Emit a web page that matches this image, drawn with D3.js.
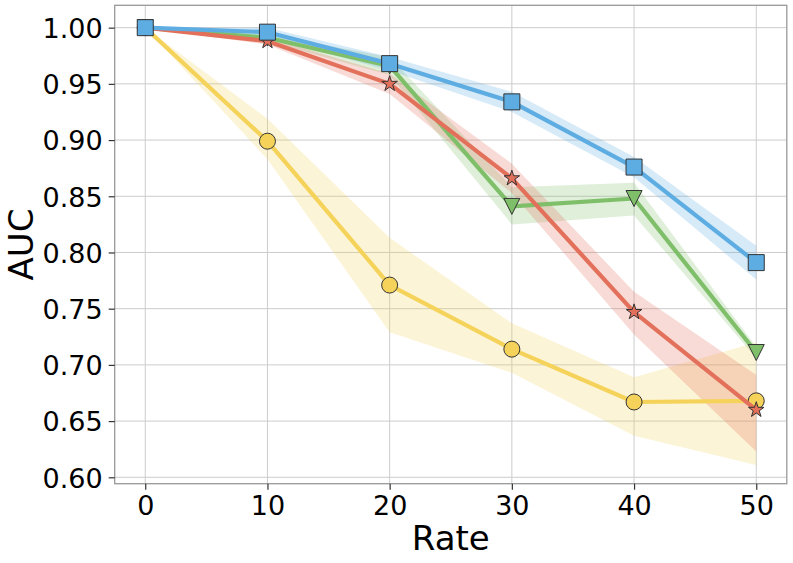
<!DOCTYPE html>
<html>
<head>
<meta charset="utf-8">
<script src="https://cdn.jsdelivr.net/npm/d3@7"></script>
<style>
  body { margin: 0; background: #fff; }
  text { font-family: "DejaVu Sans", sans-serif; }
</style>
</head>
<body>
<svg id="chart" width="793" height="563"></svg>
<script>
// data
const rates = [0, 10, 20, 30, 40, 50];
const xTicks = [0, 10, 20, 30, 40, 50];
const yTicks = [0.60, 0.65, 0.70, 0.75, 0.80, 0.85, 0.90, 0.95, 1.00];

const yellowMean = [1.0, 0.899, 0.771, 0.714, 0.667, 0.668];
const yellowLow = [1.0, 0.883, 0.729, 0.693, 0.637, 0.611];
const yellowHigh = [1.0, 0.919, 0.813, 0.737, 0.689, 0.720];

const greenMean = [1.0, 0.991, 0.966, 0.841, 0.848, 0.711];
const greenLow = [1.0, 0.988, 0.958, 0.825, 0.833, 0.706];
const greenHigh = [1.0, 0.994, 0.974, 0.858, 0.862, 0.716];

const redMean = [1.0, 0.988, 0.950, 0.866, 0.747, 0.660];
const redLow = [1.0, 0.985, 0.941, 0.853, 0.727, 0.623];
const redHigh = [1.0, 0.991, 0.959, 0.879, 0.765, 0.691];

const blueMean = [1.0, 0.996, 0.968, 0.934, 0.876, 0.791];
const blueLow = [1.0, 0.992, 0.962, 0.925, 0.867, 0.776];
const blueHigh = [1.0, 1.0, 0.974, 0.943, 0.885, 0.806];

const conf = {
  left: 114.7,
  right: 786.8,
  top: 5.3,
  bottom: 483.7,
  tickLen: 6,
  tickFont: 27,
  labelFont: 34
};

const series = [
  { color: '#F5D35A', mean: yellowMean, low: yellowLow, high: yellowHigh, marker: 'circle' },
  { color: '#7FBF6A', mean: greenMean, low: greenLow, high: greenHigh, marker: 'triangle' },
  { color: '#E2705A', mean: redMean, low: redLow, high: redHigh, marker: 'star' },
  { color: '#5DADE2', mean: blueMean, low: blueLow, high: blueHigh, marker: 'square' }
];

const svg = d3.select('#chart');

const x = d3.scaleLinear().domain([-2.5, 52.5]).range([conf.left, conf.right]);
const y = d3.scaleLinear().domain([0.5943, 1.0199]).range([conf.bottom, conf.top]);

// grid
const grid = svg.append('g').attr('class', 'grid');
grid.selectAll('line.vx')
  .data(xTicks)
  .enter()
  .append('line')
  .attr('x1', d => x(d))
  .attr('x2', d => x(d))
  .attr('y1', conf.top)
  .attr('y2', conf.bottom)
  .attr('stroke', '#cccccc')
  .attr('stroke-width', 1);
grid.selectAll('line.hy')
  .data(yTicks)
  .enter()
  .append('line')
  .attr('x1', conf.left)
  .attr('x2', conf.right)
  .attr('y1', d => y(d))
  .attr('y2', d => y(d))
  .attr('stroke', '#cccccc')
  .attr('stroke-width', 1);

// bands first, all under the lines
series.forEach(s => {
  const area = d3.area()
    .x((d, i) => x(rates[i]))
    .y0((d, i) => y(s.low[i]))
    .y1((d, i) => y(s.high[i]));
  svg.append('path')
    .attr('d', area(s.mean))
    .attr('fill', s.color)
    .attr('fill-opacity', 0.25)
    .attr('stroke', 'none');
});

const line = d3.line()
  .x((d, i) => x(rates[i]))
  .y(d => y(d));

const markerPath = function(type) {
  if (type === 'circle') return d3.symbol(d3.symbolCircle, 201)();
  if (type === 'square') return d3.symbol(d3.symbolSquare, 256)();
  if (type === 'star') return d3.symbol(d3.symbolStar, 75)();
  // downward triangle like matplotlib 'v'
  return 'M-8,-8L8,-8L0,8Z';
};

series.forEach(s => {
  const g = svg.append('g');
  g.append('path')
    .attr('d', line(s.mean))
    .attr('fill', 'none')
    .attr('stroke', s.color)
    .attr('stroke-width', 4.2)
    .attr('stroke-linejoin', 'round')
    .attr('stroke-linecap', 'butt');
  g.selectAll('path.mk')
    .data(s.mean)
    .enter()
    .append('path')
    .attr('class', 'mk')
    .attr('d', markerPath(s.marker))
    .attr('transform', (d, i) => 'translate(' + x(rates[i]) + ',' + y(d) + ')')
    .attr('fill', s.color)
    .attr('stroke', '#333333')
    .attr('stroke-width', 1);
});

// frame
svg.append('rect')
  .attr('x', conf.left)
  .attr('y', conf.top)
  .attr('width', conf.right - conf.left)
  .attr('height', conf.bottom - conf.top)
  .attr('fill', 'none')
  .attr('stroke', '#999999')
  .attr('stroke-width', 1.3);

// axes
const xAxis = svg.append('g')
  .attr('transform', 'translate(0,' + conf.bottom + ')')
  .call(d3.axisBottom(x).tickValues(xTicks).tickFormat(d3.format('d'))
    .tickSize(conf.tickLen).tickPadding(4));
const yAxis = svg.append('g')
  .attr('transform', 'translate(' + conf.left + ',0)')
  .call(d3.axisLeft(y).tickValues(yTicks).tickFormat(d3.format('.2f'))
    .tickSize(conf.tickLen).tickPadding(6));

[xAxis, yAxis].forEach(a => {
  a.select('.domain').remove();
  a.selectAll('.tick line').attr('stroke', '#333333').attr('stroke-width', 1.2);
  a.selectAll('.tick text')
    .attr('font-size', conf.tickFont)
    .attr('font-family', 'DejaVu Sans')
    .attr('fill', '#000');
});
xAxis.selectAll('.tick text').attr('dy', '0.8em');
yAxis.selectAll('.tick text').attr('dy', '0.36em');

svg.append('text')
  .attr('x', (conf.left + conf.right) / 2)
  .attr('y', 550)
  .attr('text-anchor', 'middle')
  .attr('font-size', conf.labelFont)
  .text('Rate');

svg.append('text')
  .attr('transform', 'translate(33,' + (conf.top + conf.bottom) / 2 + ') rotate(-90)')
  .attr('text-anchor', 'middle')
  .attr('font-size', conf.labelFont)
  .text('AUC');
</script>
</body>
</html>
